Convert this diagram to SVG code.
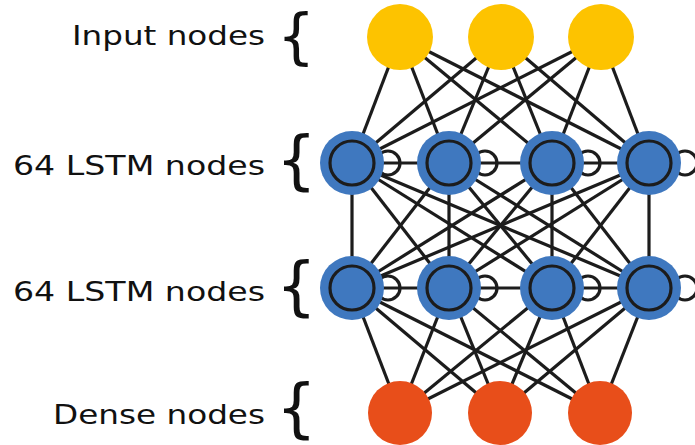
<svg xmlns="http://www.w3.org/2000/svg" width="695" height="445" viewBox="0 0 695 445">
<style>
.lbl{font-family:"DejaVu Sans","Verdana",sans-serif;font-size:27px;fill:#111}
.br{font-family:"DejaVu Sans",sans-serif;font-size:64px;fill:#111}
.c line{stroke:#1c1c1c;stroke-width:3.2}
.loop{fill:none;stroke:#1c1c1c;stroke-width:3.2}
.inp{fill:#FDC300}
.lstm .o{fill:#3F78BF}
.lstm .i{fill:#3F78BF;stroke:#1c1c1c;stroke-width:3.2}
.den{fill:#E84E1A}
</style>
<rect width="695" height="445" fill="#fff"/>
<g id="labels">
<text class="lbl" x="72" y="45" textLength="193" lengthAdjust="spacingAndGlyphs">Input nodes</text>
<text class="lbl" x="13" y="175" textLength="252" lengthAdjust="spacingAndGlyphs">64 LSTM nodes</text>
<text class="lbl" x="13" y="301" textLength="252" lengthAdjust="spacingAndGlyphs">64 LSTM nodes</text>
<text class="lbl" x="53" y="424" textLength="212" lengthAdjust="spacingAndGlyphs">Dense nodes</text>
<text class="br" x="277" y="57" style="font-size:60px">{</text>
<text class="br" x="276" y="182">{</text>
<text class="br" x="276" y="308">{</text>
<text class="br" x="276" y="430">{</text>
</g>
<g id="connectors" class="c">
<line x1="400" y1="37" x2="352" y2="163"/><line x1="400" y1="37" x2="449" y2="163"/><line x1="400" y1="37" x2="552" y2="163"/><line x1="400" y1="37" x2="649" y2="163"/>
<line x1="501" y1="37" x2="352" y2="163"/><line x1="501" y1="37" x2="449" y2="163"/><line x1="501" y1="37" x2="552" y2="163"/><line x1="501" y1="37" x2="649" y2="163"/>
<line x1="601" y1="37" x2="352" y2="163"/><line x1="601" y1="37" x2="449" y2="163"/><line x1="601" y1="37" x2="552" y2="163"/><line x1="601" y1="37" x2="649" y2="163"/>
<line x1="352" y1="163" x2="352" y2="288"/><line x1="352" y1="163" x2="449" y2="288"/><line x1="352" y1="163" x2="552" y2="288"/><line x1="352" y1="163" x2="649" y2="288"/>
<line x1="449" y1="163" x2="352" y2="288"/><line x1="449" y1="163" x2="449" y2="288"/><line x1="449" y1="163" x2="552" y2="288"/><line x1="449" y1="163" x2="649" y2="288"/>
<line x1="552" y1="163" x2="352" y2="288"/><line x1="552" y1="163" x2="449" y2="288"/><line x1="552" y1="163" x2="552" y2="288"/><line x1="552" y1="163" x2="649" y2="288"/>
<line x1="649" y1="163" x2="352" y2="288"/><line x1="649" y1="163" x2="449" y2="288"/><line x1="649" y1="163" x2="552" y2="288"/><line x1="649" y1="163" x2="649" y2="288"/>
<line x1="352" y1="288" x2="400" y2="413"/><line x1="352" y1="288" x2="500" y2="413"/><line x1="352" y1="288" x2="600" y2="413"/>
<line x1="449" y1="288" x2="400" y2="413"/><line x1="449" y1="288" x2="500" y2="413"/><line x1="449" y1="288" x2="600" y2="413"/>
<line x1="552" y1="288" x2="400" y2="413"/><line x1="552" y1="288" x2="500" y2="413"/><line x1="552" y1="288" x2="600" y2="413"/>
<line x1="649" y1="288" x2="400" y2="413"/><line x1="649" y1="288" x2="500" y2="413"/><line x1="649" y1="288" x2="600" y2="413"/>
<line x1="352" y1="163" x2="649" y2="163"/>
<line x1="352" y1="288" x2="649" y2="288"/>
<circle class="loop" cx="388" cy="163" r="12"/><circle class="loop" cx="485" cy="163" r="12"/><circle class="loop" cx="588" cy="163" r="12"/><circle class="loop" cx="685" cy="163" r="12"/>
<circle class="loop" cx="388" cy="288" r="12"/><circle class="loop" cx="485" cy="288" r="12"/><circle class="loop" cx="588" cy="288" r="12"/><circle class="loop" cx="685" cy="288" r="12"/>
</g>
<g id="in1"><circle class="inp" cx="400" cy="37" r="33"/></g>
<g id="in2"><circle class="inp" cx="501" cy="37" r="33"/></g>
<g id="in3"><circle class="inp" cx="601" cy="37" r="33"/></g>
<g id="l1a" class="lstm"><circle class="o" cx="352" cy="163" r="32"/><circle class="i" cx="352" cy="163" r="22"/></g>
<g id="l1b" class="lstm"><circle class="o" cx="449" cy="163" r="32"/><circle class="i" cx="449" cy="163" r="22"/></g>
<g id="l1c" class="lstm"><circle class="o" cx="552" cy="163" r="32"/><circle class="i" cx="552" cy="163" r="22"/></g>
<g id="l1d" class="lstm"><circle class="o" cx="649" cy="163" r="32"/><circle class="i" cx="649" cy="163" r="22"/></g>
<g id="l2a" class="lstm"><circle class="o" cx="352" cy="288" r="32"/><circle class="i" cx="352" cy="288" r="22"/></g>
<g id="l2b" class="lstm"><circle class="o" cx="449" cy="288" r="32"/><circle class="i" cx="449" cy="288" r="22"/></g>
<g id="l2c" class="lstm"><circle class="o" cx="552" cy="288" r="32"/><circle class="i" cx="552" cy="288" r="22"/></g>
<g id="l2d" class="lstm"><circle class="o" cx="649" cy="288" r="32"/><circle class="i" cx="649" cy="288" r="22"/></g>
<g id="d1"><circle class="den" cx="400" cy="413" r="32"/></g>
<g id="d2"><circle class="den" cx="500" cy="413" r="32"/></g>
<g id="d3"><circle class="den" cx="600" cy="413" r="32"/></g>
</svg>
